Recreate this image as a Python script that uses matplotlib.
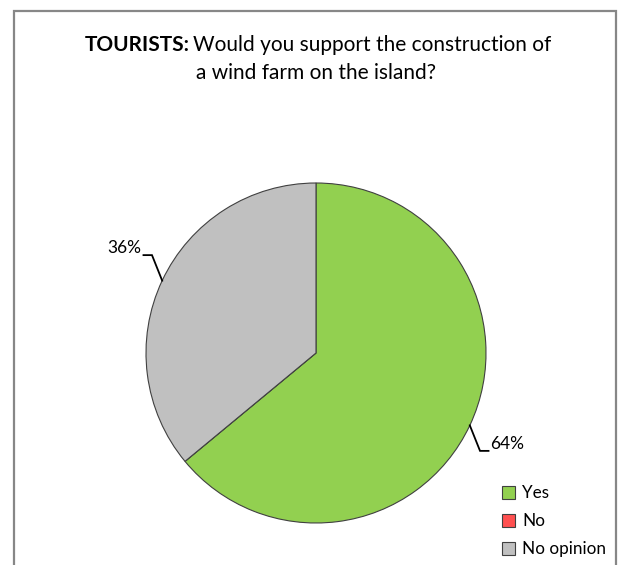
import numpy as np
import matplotlib
matplotlib.use('Agg')
import matplotlib.pyplot as plt
from matplotlib.patches import Rectangle, Patch

### data
categories = ['Yes', 'No', 'No opinion']
shares = [64, 0, 36]
colors = ['#92D050', '#FF5050', '#C0C0C0']

plt.rcParams['font.family'] = ['Lato', 'DejaVu Sans']

W, H = 618, 565
fig = plt.figure(figsize=(W / 100, H / 100), dpi=100)

### outer frame (bottom edge is cut off in the reference)
fig.patches.append(Rectangle((14 / W, -0.05), (616 - 14) / W, (H - 11) / H + 0.05,
                             transform=fig.transFigure, fill=False,
                             edgecolor='#878787', linewidth=1.6))

### title: bold lead-in + regular rest
split_x = 190 / W
fig.text(split_x, 1 - 45 / H, 'TOURISTS:', ha='right', va='center',
         fontsize=15, fontweight='bold')
fig.text(split_x + 3 / W, 1 - 45 / H, 'Would you support the construction of',
         ha='left', va='center', fontsize=15)
fig.text(316 / W, 1 - 73 / H, 'a wind farm on the island?', ha='center',
         va='center', fontsize=15)

### pie
r_px = 170
ax = fig.add_axes([(316 - r_px) / W, (H - 353 - r_px) / H,
                   2 * r_px / W, 2 * r_px / H])
wedges, _ = ax.pie(shares, colors=colors, startangle=90, counterclock=False,
                   radius=1, wedgeprops=dict(edgecolor='#404040', linewidth=0.8))
ax.set_xlim(-1, 1)
ax.set_ylim(-1, 1)
ax.set_aspect('equal')
ax.axis('off')

### percentage labels with elbow leader lines
for w, s in zip(wedges, shares):
    if s == 0:
        continue
    mid = np.deg2rad((w.theta1 + w.theta2) / 2)
    x0, y0 = np.cos(mid), np.sin(mid)
    sx = np.sign(x0)
    sy = np.sign(y0)
    x1, y1 = x0 + sx * 0.06, y0 + sy * 0.15
    x2 = x1 + sx * 0.05
    ax.plot([x0, x1, x2], [y0, y1, y1], color='black', lw=1.3,
            clip_on=False, solid_joinstyle='miter')
    ax.text(x2 + sx * 0.01, y1 - 0.005, '%d%%' % s,
            ha='left' if sx > 0 else 'right', va='bottom', fontsize=12.5)

### legend
handles = [Patch(facecolor=c, edgecolor='#404040', linewidth=0.8) for c in colors]
fig.legend(handles, categories, loc='upper left',
           bbox_to_anchor=(487 / W, 1 - 470 / H), frameon=False,
           fontsize=12.3, handlelength=0.75, handleheight=0.75,
           handletextpad=0.4, labelspacing=0.7)

fig.savefig('out.png', dpi=100)
